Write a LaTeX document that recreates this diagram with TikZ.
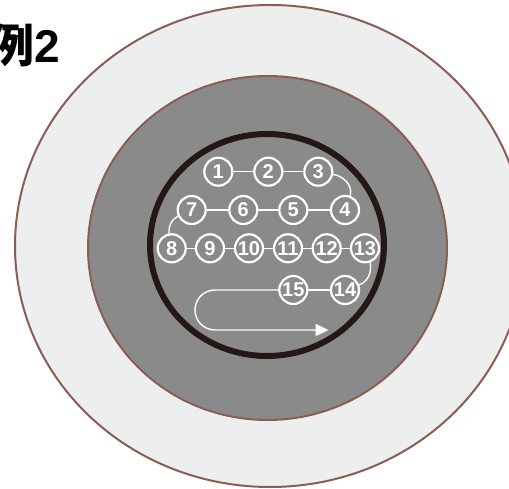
\documentclass[tikz,border=0pt]{standalone}
\usepackage{fontspec}
\setmainfont{Liberation Sans}
\newfontfamily\cjk{Noto Sans CJK JP}
\usetikzlibrary{arrows.meta}
\definecolor{outerfill}{HTML}{EDEEEE}
\definecolor{rimbrown}{HTML}{8B5E55}
\definecolor{midgray}{HTML}{8A8A8A}
\definecolor{darkrim}{HTML}{231815}
\tikzset{
  num/.style={circle, draw=white, line width=2.2pt, minimum size=28pt, inner sep=0pt,
    text=white, font=\fontsize{20}{20}\selectfont\bfseries},
  link/.style={draw=white, line width=1.4pt},
}
\begin{document}
\begin{tikzpicture}[x=1pt,y=-1pt]
\useasboundingbox (0,0) rectangle (509,489);
\fill[white] (0,0) rectangle (509,489);
\draw[rimbrown, fill=outerfill, line width=2pt] (270,246) ellipse [x radius=255, y radius=241];
\draw[rimbrown, fill=midgray, line width=2pt] (267.5,248) ellipse [x radius=179.5, y radius=172];
\draw[darkrim, fill=midgray, line width=6pt] (267,245) ellipse [x radius=117, y radius=111];
\node[anchor=base east, inner sep=0pt, font=\fontsize{46}{46}\selectfont\bfseries] (title) at (60,63) {{\cjk 例}2};
% nodes
\node[num] (n1) at (218.3,171.7) {1};
\node[num] (n2) at (268.3,171.7) {2};
\node[num] (n3) at (318.3,171.7) {3};
\node[num] (n7) at (191.7,210) {7};
\node[num] (n6) at (243.3,210) {6};
\node[num] (n5) at (293.3,210) {5};
\node[num] (n4) at (345,210) {4};
\node[num] (n8) at (171.7,248.3) {8};
\node[num] (n9) at (210,248.3) {9};
\node[num] (n10) at (249,248.3) {10};
\node[num] (n11) at (288,248.3) {11};
\node[num] (n12) at (326.7,248.3) {12};
\node[num] (n13) at (365,248.3) {13};
\node[num] (n15) at (293.3,290) {15};
\node[num] (n14) at (345,290) {14};
\coordinate (arrend) at (328.5,330);
% links
\draw[link] (n1) -- (n2);
\draw[link] (n2) -- (n3);
\draw[link] (n3.-10) to[out=-10,in=75] (n4.70);
\draw[link] (n4) -- (n5);
\draw[link] (n5) -- (n6);
\draw[link] (n6) -- (n7);
\draw[link] (n7.205) to[out=205,in=95] (n8.100);
\draw[link] (n8) -- (n9);
\draw[link] (n9) -- (n10);
\draw[link] (n10) -- (n11);
\draw[link] (n11) -- (n12);
\draw[link] (n12) -- (n13);
\draw[link] (n13.-70) to[out=-80,in=20] (n14.20);
\draw[link] (n14) -- (n15);
\draw[link, rounded corners=20pt, -{Triangle[length=13pt,width=12pt]}] (n15.west) -- (195,290) -- (195,330) -- (arrend);
\end{tikzpicture}
\end{document}
